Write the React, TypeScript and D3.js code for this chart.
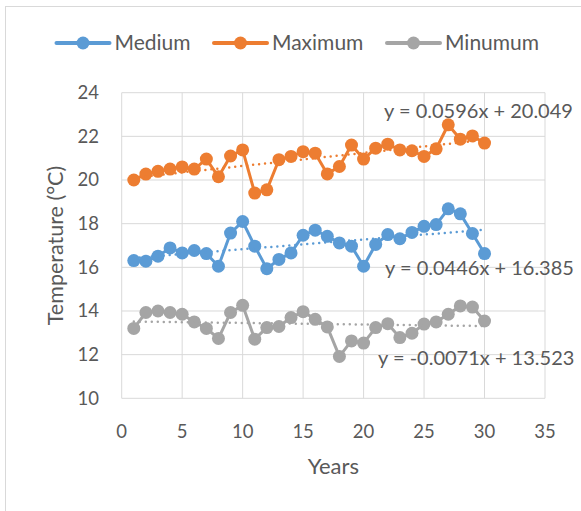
import React from "react";
import * as d3 from "d3";

const years = d3.range(1, 31);
const medium = [16.31, 16.28, 16.51, 16.89, 16.66, 16.77, 16.63, 16.05, 17.57, 18.1, 16.97, 15.94, 16.36, 16.66, 17.47, 17.7, 17.42, 17.12, 16.97, 16.05, 17.05, 17.5, 17.31, 17.6, 17.88, 17.96, 18.68, 18.45, 17.55, 16.63];
const maximum = [20.0, 20.27, 20.4, 20.5, 20.6, 20.5, 20.96, 20.15, 21.1, 21.38, 19.4, 19.55, 20.93, 21.08, 21.3, 21.23, 20.28, 20.62, 21.6, 20.96, 21.46, 21.64, 21.38, 21.34, 21.08, 21.43, 22.53, 21.87, 22.02, 21.69];
const minimum = [13.2, 13.93, 14.0, 13.93, 13.85, 13.5, 13.2, 12.74, 13.93, 14.26, 12.71, 13.24, 13.29, 13.7, 13.97, 13.62, 13.27, 11.92, 12.63, 12.53, 13.24, 13.42, 12.78, 12.98, 13.4, 13.5, 13.85, 14.23, 14.18, 13.54];

const seriesNames = ["Medium", "Maximum", "Minumum"];
const seriesColors = ["#5B9BD5", "#ED7D31", "#A5A5A5"];
const trendSlopes = [0.0446, 0.0596, -0.0071];
const trendIntercepts = [16.385, 20.049, 13.523];
const trendLabels = ["y = 0.0446x + 16.385", "y = 0.0596x + 20.049", "y = -0.0071x + 13.523"];
const xTicks = [0, 5, 10, 15, 20, 25, 30, 35];
const yTicks = [10, 12, 14, 16, 18, 20, 22, 24];

export default function App() {
  const W = 581, H = 511;
  const x = d3.scaleLinear().domain([0, 35]).range([121.7, 545]);
  const y = d3.scaleLinear().domain([10, 24]).range([398.3, 92.7]);
  const data = [medium, maximum, minimum];
  const line = d3.line<number>().x((_, i) => x(years[i])).y((d) => y(d));
  const font = "Lato, 'Open Sans', sans-serif";
  const txt = "#595959";
  const labelPos = [
    { x: 385, y: 275 },
    { x: 384, y: 117.5 },
    { x: 378, y: 365 },
  ];
  const legendX = [56.5, 214, 387];
  return (
    <svg width={W} height={H} style={{ position: "absolute", left: 0, top: 0, background: "#fff" }}>
      <rect x={5.5} y={6.5} width={W} height={H} fill="#fff" stroke="#D9D9D9" strokeWidth={1} />
      {/* gridlines */}
      {yTicks.map((t) => (
        <line key={"gy" + t} x1={x(0)} x2={x(35)} y1={y(t)} y2={y(t)} stroke="#D9D9D9" strokeWidth={1} />
      ))}
      {xTicks.map((t) => (
        <line key={"gx" + t} x1={x(t)} x2={x(t)} y1={y(10)} y2={y(24)} stroke="#D9D9D9" strokeWidth={1} />
      ))}
      {yTicks.map((t) => (
        <text key={"ty" + t} x={99} y={y(t)} dy="0.35em" textAnchor="end" fontFamily={font} fontSize={18.5} fill={txt}>{t}</text>
      ))}
      {xTicks.map((t) => (
        <text key={"tx" + t} x={x(t)} y={432} dy="0.35em" textAnchor="middle" fontFamily={font} fontSize={18.5} fill={txt}>{t}</text>
      ))}
      <text x={x(17.5)} y={466} dy="0.35em" textAnchor="middle" fontFamily={font} fontSize={22} fill={txt}>Years</text>
      <text transform={`translate(55,${y(17)}) rotate(-90)`} dy="0.35em" textAnchor="middle" fontFamily={font} fontSize={21.5} fill={txt}>Temperature (°C)</text>
      {/* series */}
      {data.map((vals, s) => (
        <g key={"s" + s}>
          <path d={line(vals) || ""} fill="none" stroke={seriesColors[s]} strokeWidth={3} strokeLinejoin="round" />
          {vals.map((v, i) => (
            <circle key={i} cx={x(years[i])} cy={y(v)} r={6.5} fill={seriesColors[s]} />
          ))}
        </g>
      ))}
      {/* trendlines */}
      {data.map((_, s) => (
        <line key={"tr" + s}
          x1={x(1)} x2={x(30)}
          y1={y(trendSlopes[s] * 1 + trendIntercepts[s])}
          y2={y(trendSlopes[s] * 30 + trendIntercepts[s])}
          stroke={seriesColors[s]} strokeWidth={2.5} strokeDasharray="0 6" strokeLinecap="round" />
      ))}
      {trendLabels.map((l, s) => (
        <text key={"tl" + s} x={labelPos[s].x} y={labelPos[s].y} fontFamily={font} fontSize={20} fill={txt}>{l}</text>
      ))}
      {/* legend */}
      {seriesNames.map((n, s) => (
        <g key={"lg" + s}>
          <line x1={legendX[s]} x2={legendX[s] + 53} y1={43} y2={43} stroke={seriesColors[s]} strokeWidth={4} strokeLinecap="round" />
          <circle cx={legendX[s] + 26.5} cy={43} r={6.5} fill={seriesColors[s]} />
          <text x={legendX[s] + 58} y={43} dy="0.35em" fontFamily={font} fontSize={21} fill={txt}>{n}</text>
        </g>
      ))}
    </svg>
  );
}
